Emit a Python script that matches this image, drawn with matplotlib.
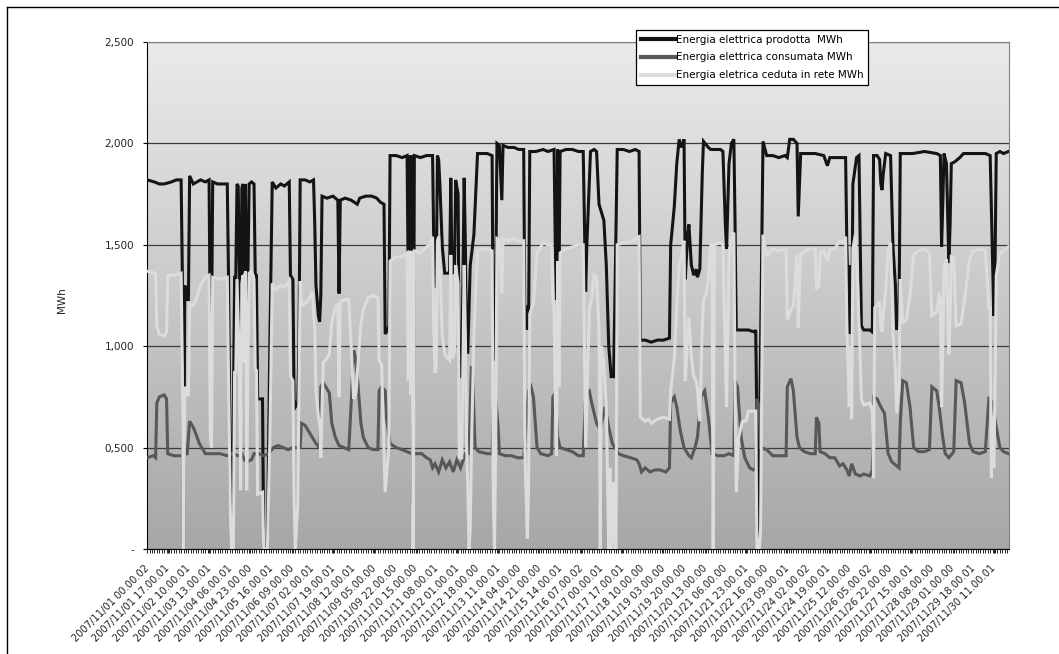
import numpy as np
import matplotlib
matplotlib.use("Agg")
import matplotlib.pyplot as plt
from matplotlib.lines import Line2D
from matplotlib.transforms import ScaledTranslation

# ore (indice di categoria) e valori in MWh
prodotta = [(0,1.82),(6,1.81),(10,1.80),(14,1.80),(20,1.81),(24,1.82),(28,1.82),(29,1.36),(30,0.00),(31,1.30),(33,1.23),(34,1.23),(35,1.84),(38,1.80),(41,1.81),(44,1.82),(48,1.81),(51,1.82),(52,1.06),(53,1.06),(54,1.81),(58,1.80),(62,1.80),(66,1.80),(67,1.35),(69,0.00),(70,0.00),(72,1.34),(73,1.34),(74,1.80),(75,1.79),(76,1.36),(77,0.72),(78,1.78),(79,1.80),(80,1.36),(81,1.80),(82,0.72),(83,1.35),(84,1.80),(86,1.81),(88,1.80),(89,1.36),(90,1.35),(91,0.74),(95,0.74),(96,0.00),(99,0.00),(101,1.00),(103,1.81),(106,1.78),(110,1.80),(113,1.79),(117,1.81),(118,1.35),(120,1.33),(121,0.74),(122,0.70),(124,0.72),(125,1.00),(126,1.82),(130,1.82),(134,1.81),(137,1.82),(138,1.60),(139,1.30),(141,1.15),(142,1.12),(143,1.25),(144,1.74),(148,1.73),(153,1.74),(157,1.72),(158,1.26),(159,1.72),(163,1.73),(168,1.72),(173,1.70),(175,1.73),(180,1.74),(185,1.74),(189,1.73),(192,1.71),(195,1.70),(196,1.06),(198,1.08),(199,1.10),(200,1.94),(205,1.94),(210,1.93),(214,1.94),(215,1.30),(216,1.94),(217,1.23),(218,1.94),(219,0.22),(220,1.94),(225,1.93),(230,1.94),(235,1.94),(236,1.49),(237,1.29),(238,1.30),(239,1.94),(240,1.92),(241,1.80),(243,1.49),(245,1.36),(249,1.36),(250,1.83),(251,1.36),(253,1.37),(254,1.82),(256,1.75),(257,0.85),(259,0.85),(261,1.83),(262,1.50),(263,0.97),(264,0.97),(266,1.40),(269,1.55),(272,1.95),(276,1.95),(280,1.95),(284,1.94),(285,0.93),(287,1.30),(288,2.00),(290,1.99),(292,1.72),(293,1.99),(297,1.98),(302,1.98),(306,1.97),(310,1.97),(311,1.08),(313,1.20),(314,1.08),(315,1.96),(320,1.96),(326,1.97),(330,1.96),(335,1.97),(336,1.50),(337,1.23),(338,1.97),(339,1.30),(340,1.96),(345,1.97),(350,1.97),(355,1.96),(359,1.96),(361,1.27),(362,1.50),(365,1.96),(368,1.97),(370,1.96),(372,1.70),(376,1.62),(378,1.40),(380,1.00),(382,0.85),(384,0.85),(385,1.20),(387,1.97),(392,1.97),(397,1.96),(402,1.97),(405,1.96),(406,1.03),(410,1.03),(415,1.02),(420,1.03),(425,1.03),(430,1.04),(431,1.50),(434,1.69),(436,1.90),(438,2.02),(440,1.98),(442,2.02),(443,1.33),(445,1.55),(446,1.60),(448,1.40),(450,1.35),(452,1.38),(453,1.34),(455,1.38),(457,1.85),(458,2.01),(462,1.98),(464,1.97),(468,1.97),(472,1.97),(474,1.96),(476,1.60),(477,1.48),(479,1.90),(481,2.00),(483,2.02),(484,1.60),(485,1.08),(490,1.08),(495,1.08),(500,1.07),(501,1.08),(502,0.60),(503,0.03),(504,0.50),(507,2.01),(510,1.94),(515,1.94),(520,1.93),(525,1.94),(527,1.93),(529,2.02),(532,2.02),(535,2.00),(536,1.64),(537,1.80),(538,1.95),(545,1.95),(550,1.95),(557,1.94),(560,1.89),(562,1.93),(568,1.93),(573,1.93),(575,1.93),(576,1.50),(578,1.06),(579,1.40),(580,1.06),(581,1.80),(584,1.93),(586,1.94),(587,1.50),(588,1.10),(590,1.08),(595,1.08),(597,1.07),(598,1.94),(601,1.94),(603,1.92),(604,1.80),(605,1.77),(606,1.85),(608,1.95),(612,1.94),(614,1.49),(616,1.30),(617,1.08),(619,1.20),(620,1.95),(630,1.95),(640,1.96),(650,1.95),(653,1.94),(654,1.49),(655,1.70),(656,1.95),(658,1.90),(660,1.41),(661,1.60),(662,1.90),(665,1.91),(669,1.93),(672,1.95),(680,1.95),(690,1.95),(694,1.94),(696,1.40),(697,1.15),(698,1.40),(699,1.95),(702,1.96),(705,1.95),(709,1.96)]

consumata = [(0,0.45),(5,0.46),(7,0.45),(8,0.72),(10,0.75),(14,0.76),(16,0.74),(17,0.47),(22,0.46),(28,0.46),(33,0.47),(35,0.63),(36,0.62),(38,0.60),(40,0.57),(43,0.52),(45,0.50),(48,0.47),(55,0.47),(60,0.47),(66,0.46),(70,0.47),(75,0.46),(78,0.47),(80,0.44),(82,0.43),(86,0.44),(88,0.47),(92,0.47),(96,0.46),(100,0.47),(104,0.50),(108,0.51),(112,0.50),(116,0.49),(120,0.50),(126,0.50),(127,0.62),(130,0.61),(133,0.58),(136,0.55),(139,0.52),(142,0.50),(143,0.80),(145,0.82),(148,0.79),(150,0.77),(152,0.62),(155,0.55),(158,0.51),(162,0.50),(166,0.49),(168,0.72),(170,0.98),(172,0.93),(174,0.78),(176,0.62),(178,0.55),(182,0.50),(186,0.49),(190,0.49),(191,0.78),(193,0.80),(196,0.78),(197,0.65),(200,0.52),(205,0.50),(210,0.49),(214,0.48),(218,0.47),(222,0.47),(226,0.47),(230,0.45),(233,0.44),(235,0.40),(237,0.42),(240,0.38),(243,0.44),(246,0.40),(249,0.43),(252,0.38),(255,0.44),(258,0.40),(262,0.47),(265,0.47),(267,0.90),(268,0.85),(270,0.50),(273,0.48),(280,0.47),(284,0.47),(285,0.70),(287,0.74),(289,0.60),(290,0.47),(295,0.46),(300,0.46),(305,0.45),(310,0.45),(312,0.60),(314,0.78),(316,0.80),(318,0.75),(321,0.50),(324,0.47),(330,0.46),(333,0.47),(334,0.75),(336,0.77),(338,0.55),(340,0.50),(345,0.49),(350,0.48),(355,0.46),(359,0.46),(361,0.77),(364,0.78),(366,0.72),(370,0.62),(373,0.59),(377,0.70),(380,0.60),(383,0.52),(388,0.47),(392,0.46),(398,0.45),(403,0.44),(405,0.42),(407,0.38),(410,0.40),(414,0.38),(418,0.39),(422,0.39),(427,0.38),(430,0.40),(431,0.72),(434,0.75),(436,0.70),(439,0.58),(442,0.50),(446,0.46),(448,0.45),(451,0.50),(453,0.55),(456,0.75),(459,0.78),(462,0.65),(465,0.47),(470,0.46),(475,0.46),(479,0.47),(483,0.46),(484,0.83),(486,0.80),(489,0.55),(492,0.45),(496,0.40),(499,0.39),(501,0.40),(502,0.74),(504,0.70),(505,0.50),(510,0.49),(515,0.46),(520,0.46),(526,0.46),(527,0.80),(530,0.84),(532,0.78),(535,0.55),(537,0.50),(541,0.48),(546,0.47),(550,0.47),(551,0.65),(553,0.62),(554,0.48),(558,0.47),(562,0.45),(566,0.45),(570,0.41),(573,0.42),(576,0.39),(578,0.36),(580,0.42),(583,0.37),(587,0.36),(590,0.37),(595,0.36),(597,0.39),(598,0.75),(601,0.74),(604,0.70),(607,0.67),(610,0.47),(613,0.43),(617,0.41),(619,0.40),(620,0.62),(622,0.83),(625,0.82),(628,0.70),(631,0.50),(635,0.48),(640,0.48),(644,0.49),(646,0.80),(650,0.78),(652,0.70),(655,0.55),(657,0.47),(660,0.45),(664,0.48),(666,0.83),(670,0.82),(673,0.72),(677,0.52),(680,0.48),(685,0.47),(690,0.48),(693,0.75),(696,0.72),(699,0.60),(702,0.50),(705,0.48),(709,0.47)]

ceduta = [(0,1.37),(7,1.36),(8,1.10),(10,1.06),(14,1.05),(16,1.07),(17,1.35),(22,1.35),(28,1.36),(29,0.90),(30,0.00),(31,0.80),(33,0.76),(34,0.76),(35,1.21),(38,1.20),(41,1.24),(44,1.30),(48,1.34),(51,1.35),(52,0.55),(53,0.50),(54,1.34),(60,1.33),(66,1.34),(67,0.85),(69,0.00),(71,0.00),(72,0.87),(73,0.87),(74,1.33),(76,0.90),(77,0.29),(78,1.31),(79,1.35),(80,0.92),(81,1.37),(82,0.29),(83,0.91),(84,1.36),(86,1.37),(88,1.33),(89,0.89),(90,0.88),(91,0.27),(95,0.28),(96,0.00),(99,0.00),(101,0.53),(103,1.31),(106,1.28),(110,1.30),(113,1.29),(117,1.32),(118,0.85),(120,0.83),(121,0.24),(122,0.00),(124,0.22),(126,1.32),(127,1.20),(130,1.21),(133,1.23),(136,1.27),(138,1.08),(139,0.78),(141,0.65),(142,0.62),(143,0.45),(145,0.92),(148,0.94),(150,0.96),(152,1.12),(155,1.19),(157,1.21),(158,0.75),(159,1.22),(163,1.23),(166,1.23),(168,1.00),(170,0.74),(172,0.77),(174,0.95),(176,1.11),(178,1.18),(182,1.24),(186,1.25),(190,1.24),(191,0.93),(193,0.91),(196,0.28),(198,0.43),(199,0.50),(200,1.42),(205,1.44),(210,1.44),(214,1.46),(215,0.83),(216,1.47),(217,0.76),(218,1.47),(219,0.00),(220,1.47),(225,1.46),(230,1.49),(233,1.50),(235,1.54),(236,1.09),(237,0.87),(238,0.90),(239,1.52),(240,1.54),(241,1.40),(243,1.05),(245,0.96),(249,0.93),(250,1.45),(251,0.94),(253,0.97),(254,1.40),(256,1.31),(257,0.45),(259,0.45),(261,1.40),(262,1.05),(263,0.50),(264,0.30),(265,0.00),(266,0.10),(267,0.50),(269,1.05),(272,1.47),(276,1.48),(280,1.48),(284,1.47),(285,0.23),(286,0.00),(287,0.56),(288,1.53),(290,1.52),(292,1.26),(293,1.53),(297,1.52),(302,1.53),(306,1.52),(310,1.52),(311,0.48),(313,0.05),(314,0.30),(315,1.16),(318,1.21),(321,1.46),(326,1.51),(330,1.50),(333,1.50),(334,1.22),(335,1.20),(336,0.75),(337,0.46),(338,1.42),(339,0.80),(340,1.46),(345,1.48),(350,1.49),(355,1.50),(359,1.50),(361,0.50),(362,0.73),(364,1.18),(366,1.24),(368,1.35),(370,1.34),(372,1.08),(373,0.00),(374,1.00),(376,0.92),(378,0.70),(380,0.00),(381,0.40),(382,0.00),(384,0.33),(385,0.00),(386,0.00),(387,1.50),(392,1.51),(397,1.51),(402,1.53),(405,1.54),(406,0.65),(410,0.63),(413,0.64),(415,0.62),(420,0.64),(425,0.65),(430,0.64),(431,0.78),(434,0.94),(436,1.20),(438,1.40),(440,1.45),(442,1.52),(443,0.83),(445,1.05),(446,1.14),(448,0.95),(450,0.85),(452,0.83),(453,0.79),(455,0.63),(457,1.10),(458,1.23),(460,1.25),(462,1.33),(464,1.50),(465,1.50),(466,0.00),(467,1.50),(472,1.51),(474,1.50),(476,0.95),(477,0.70),(479,1.43),(481,1.54),(483,1.56),(484,0.77),(485,0.28),(487,0.55),(490,0.63),(493,0.63),(495,0.68),(499,0.68),(501,0.68),(502,0.00),(504,0.00),(505,0.10),(507,1.55),(510,1.45),(515,1.48),(520,1.47),(526,1.48),(527,1.13),(530,1.18),(532,1.20),(535,1.45),(536,1.09),(537,1.30),(538,1.45),(541,1.47),(546,1.48),(550,1.48),(551,1.28),(553,1.30),(554,1.46),(557,1.47),(560,1.42),(562,1.48),(566,1.48),(570,1.52),(573,1.51),(575,1.54),(576,1.11),(578,0.70),(579,1.00),(580,0.64),(581,1.48),(583,1.55),(585,1.29),(587,0.94),(588,0.74),(590,0.71),(595,0.72),(597,0.68),(598,0.35),(599,1.19),(601,1.20),(603,1.22),(604,1.10),(605,1.07),(606,1.15),(608,1.28),(610,1.47),(612,1.51),(614,1.06),(616,0.89),(617,0.67),(619,0.80),(620,1.33),(622,1.12),(625,1.13),(628,1.25),(631,1.45),(635,1.47),(640,1.48),(644,1.46),(646,1.15),(650,1.17),(652,1.25),(653,1.24),(654,0.70),(655,1.00),(656,1.40),(658,1.43),(660,0.96),(661,1.15),(662,1.45),(664,1.43),(666,1.10),(670,1.11),(673,1.23),(677,1.43),(680,1.47),(685,1.48),(690,1.47),(693,1.19),(694,1.19),(695,0.35),(696,0.65),(697,0.40),(698,0.80),(699,1.35),(702,1.46),(705,1.47),(709,1.49)]

n_ore = 710
etichette = ["2007/11/01 00.00.02", "2007/11/01 17.00.01", "2007/11/02 10.00.01", "2007/11/03 13.00.01",
             "2007/11/04 06.00.01", "2007/11/04 23.00.00", "2007/11/05 16.00.01", "2007/11/06 09.00.00",
             "2007/11/07 02.00.01", "2007/11/07 19.00.01", "2007/11/08 12.00.01", "2007/11/09 05.00.00",
             "2007/11/09 22.00.00", "2007/11/10 15.00.00", "2007/11/11 08.00.01", "2007/11/12 01.00.01",
             "2007/11/12 18.00.00", "2007/11/13 11.00.01", "2007/11/14 04.00.00", "2007/11/14 21.00.00",
             "2007/11/15 14.00.01", "2007/11/16 07.00.02", "2007/11/17 00.00.01", "2007/11/17 17.00.01",
             "2007/11/18 10.00.00", "2007/11/19 03.00.00", "2007/11/19 20.00.00", "2007/11/20 13.00.00",
             "2007/11/21 06.00.00", "2007/11/21 23.00.01", "2007/11/22 16.00.00", "2007/11/23 09.00.01",
             "2007/11/24 02.00.02", "2007/11/24 19.00.01", "2007/11/25 12.00.00", "2007/11/26 05.00.02",
             "2007/11/26 22.00.00", "2007/11/27 15.00.01", "2007/11/28 08.00.00", "2007/11/29 01.00.00",
             "2007/11/29 18.00.01", "2007/11/30 11.00.01"]
passo_etichette = 17

nomi = ["Energia elettrica prodotta  MWh", "Energia elettrica consumata MWh", "Energia eletrica ceduta in rete MWh"]
colori = ["#141414", "#585858", "#dcdcdc"]

W, H = 1059, 654
fig = plt.figure(figsize=(W / 100, H / 100), dpi=100)
fig.patch.set_facecolor("white")

# bordo esterno dell'area grafico
fig.add_artist(Line2D([7 / W, 7 / W], [0, 1 - 7 / H], color="black", lw=1))
fig.add_artist(Line2D([7 / W, 1], [1 - 7 / H, 1 - 7 / H], color="black", lw=1))

ax = fig.add_axes([146.5 / W, 1 - 549 / H, (1009 - 146.5) / W, (549 - 42) / H])

# sfondo sfumato (chiaro in alto, scuro in basso)
livelli = np.linspace(0.92, 0.655, 256)
grad = np.repeat(livelli[:, None, None], 3, axis=2)
ax.imshow(grad, aspect="auto", origin="upper", interpolation="bilinear",
          extent=[-0.5, n_ore - 0.5, 0, 2.5], zorder=0)
ax.set_xlim(-0.5, n_ore - 0.5)
ax.set_ylim(0, 2.5)

ax.set_axisbelow(True)
ax.yaxis.grid(True, color="#3c3c3c", lw=0.9)

for serie, col in zip([prodotta, consumata, ceduta], colori):
    x, y = zip(*serie)
    ax.plot(x, y, color=col, lw=2.2, solid_joinstyle="miter", zorder=3)

ax.set_yticks([0, 0.5, 1.0, 1.5, 2.0, 2.5])
ax.set_yticklabels(["-" if v == 0 else f"{v:.3f}".replace(".", ",") for v in ax.get_yticks()])
ax.tick_params(axis="y", length=3, width=0.8, pad=6, labelsize=7.5, labelcolor="#222222")

pos = np.arange(0, n_ore, passo_etichette)[:len(etichette)]
ax.set_xticks(pos)
ax.set_xticklabels(etichette, rotation=45, ha="right", va="top", rotation_mode="anchor",
                   fontsize=7.1, color="#222222")
ax.set_xticks(np.arange(0, n_ore, 2), minor=True)
ax.tick_params(axis="x", which="both", length=3, width=0.6, pad=5)
sposta = ScaledTranslation(-3 / 100, -3 / 100, fig.dpi_scale_trans)
for lb in ax.get_xticklabels():
    lb.set_transform(lb.get_transform() + sposta)

for s in ["top", "right"]:
    ax.spines[s].set_color("#808080")
for s in ["left", "bottom"]:
    ax.spines[s].set_color("black")

fig.text(62 / W, 1 - 300 / H, "MWh", rotation=90, ha="center", va="center", fontsize=7.5, color="#222222")

maniglie = [Line2D([], [], color=c, lw=3) for c in colori]
leg = fig.legend(maniglie, nomi, loc="upper left", bbox_to_anchor=(636 / W, 1 - 30 / H),
                 fontsize=7.5, frameon=True, fancybox=False, handlelength=3.3, handletextpad=0.1,
                 borderpad=0.45, labelspacing=0.75, borderaxespad=0)
leg.get_frame().set_edgecolor("black")
leg.get_frame().set_linewidth(0.9)
leg.get_frame().set_facecolor("white")
leg.get_frame().set_alpha(1)

fig.savefig("out.png", dpi=100)
